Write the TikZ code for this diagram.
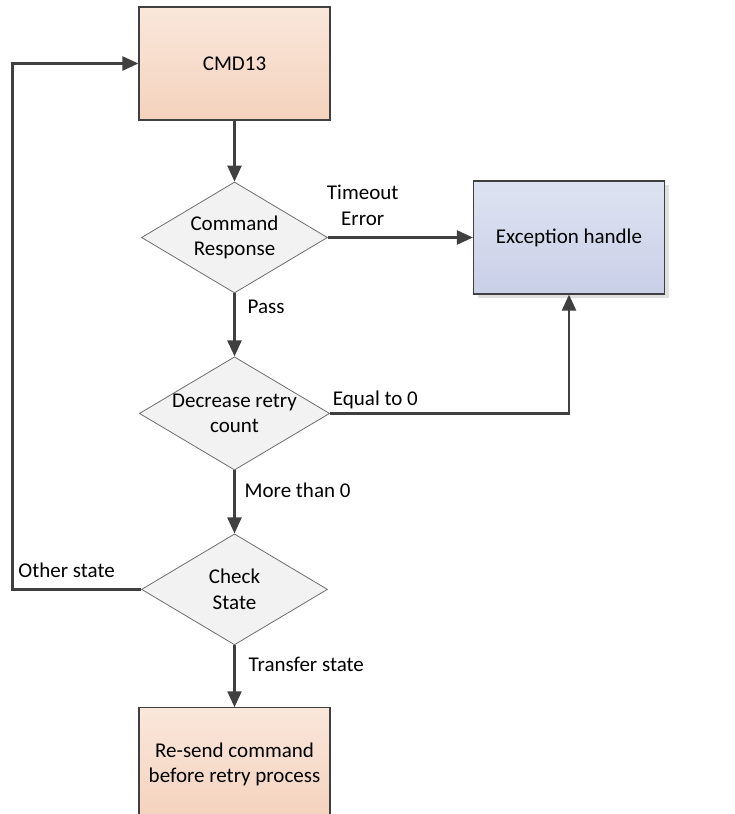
\documentclass[tikz,border=0pt]{standalone}
\usepackage{fontspec}
\setmainfont{Carlito}
\usetikzlibrary{arrows.meta,positioning,shapes.geometric,shadows}

\definecolor{cmdtop}{HTML}{FAE7DB}
\definecolor{cmdbot}{HTML}{F4D2BD}
\definecolor{exctop}{HTML}{DEE3F2}
\definecolor{excbot}{HTML}{C9CFE7}
\definecolor{decfill}{HTML}{F2F2F2}
\definecolor{decline}{HTML}{6E6E6E}
\definecolor{boxline}{HTML}{404040}
\definecolor{arrowc}{HTML}{404040}

\tikzset{
    proc/.style={rectangle, draw=boxline, line width=1.2pt, minimum width=191pt, minimum height=113pt,
        align=center, top color=cmdtop, bottom color=cmdbot},
    excproc/.style={proc, top color=exctop, bottom color=excbot,
        drop shadow={shadow xshift=4pt, shadow yshift=-4pt, fill=black!12, opacity=1}},
    dec/.style={diamond, aspect=1.68, inner sep=0pt, minimum width=186pt, minimum height=111pt,
        draw=decline, line width=0.8pt, fill=decfill, align=center},
    flow/.style={draw=arrowc, line width=2.4pt, -{Triangle[length=16pt,width=14pt]}},
    lbl/.style={inner sep=3pt, align=center, text=black}
}

\begin{document}
\begin{tikzpicture}[font=\fontsize{21}{25.5}\selectfont]
    \useasboundingbox[fill=white] (-234.5pt,63.5pt) rectangle (499.5pt,-750.5pt);

    \node[proc] (cmd) {CMD13};
    \node[dec, below=61pt of cmd] (resp) {Command\\Response};
    \node[excproc, right=145pt of resp] (exc) {Exception handle};
    \node[dec, below=63pt of resp] (decr) {Decrease retry\\count};
    \node[dec, below=63pt of decr] (chk) {Check\\State};
    \node[proc, below=62pt of chk] (resend) {Re-send command\\before retry process};
    \coordinate[left=128.5pt of chk.west] (lft);

    \draw[flow] (cmd) -- (resp);
    \draw[flow] (resp.east) -- node[lbl, pos=0.24, above=8pt] {Timeout\\Error} (exc.west);
    \draw[flow] (resp) -- node[lbl, pos=0.21, right=9pt] {Pass} (decr);
    \draw[flow] (decr.east) -- node[lbl, pos=0.19, above] {Equal to 0} (decr.east -| exc.south) -- (exc.south);
    \draw[flow] (decr) -- node[lbl, pos=0.31, right=6pt] {More than 0} (chk);
    \draw[flow] (chk.west) -- node[lbl, pos=0.58, above=8pt] {Other state} (lft) |- (cmd.west);
    \draw[flow] (chk) -- node[lbl, pos=0.31, right=10pt] {Transfer state} (resend);
\end{tikzpicture}
\end{document}
